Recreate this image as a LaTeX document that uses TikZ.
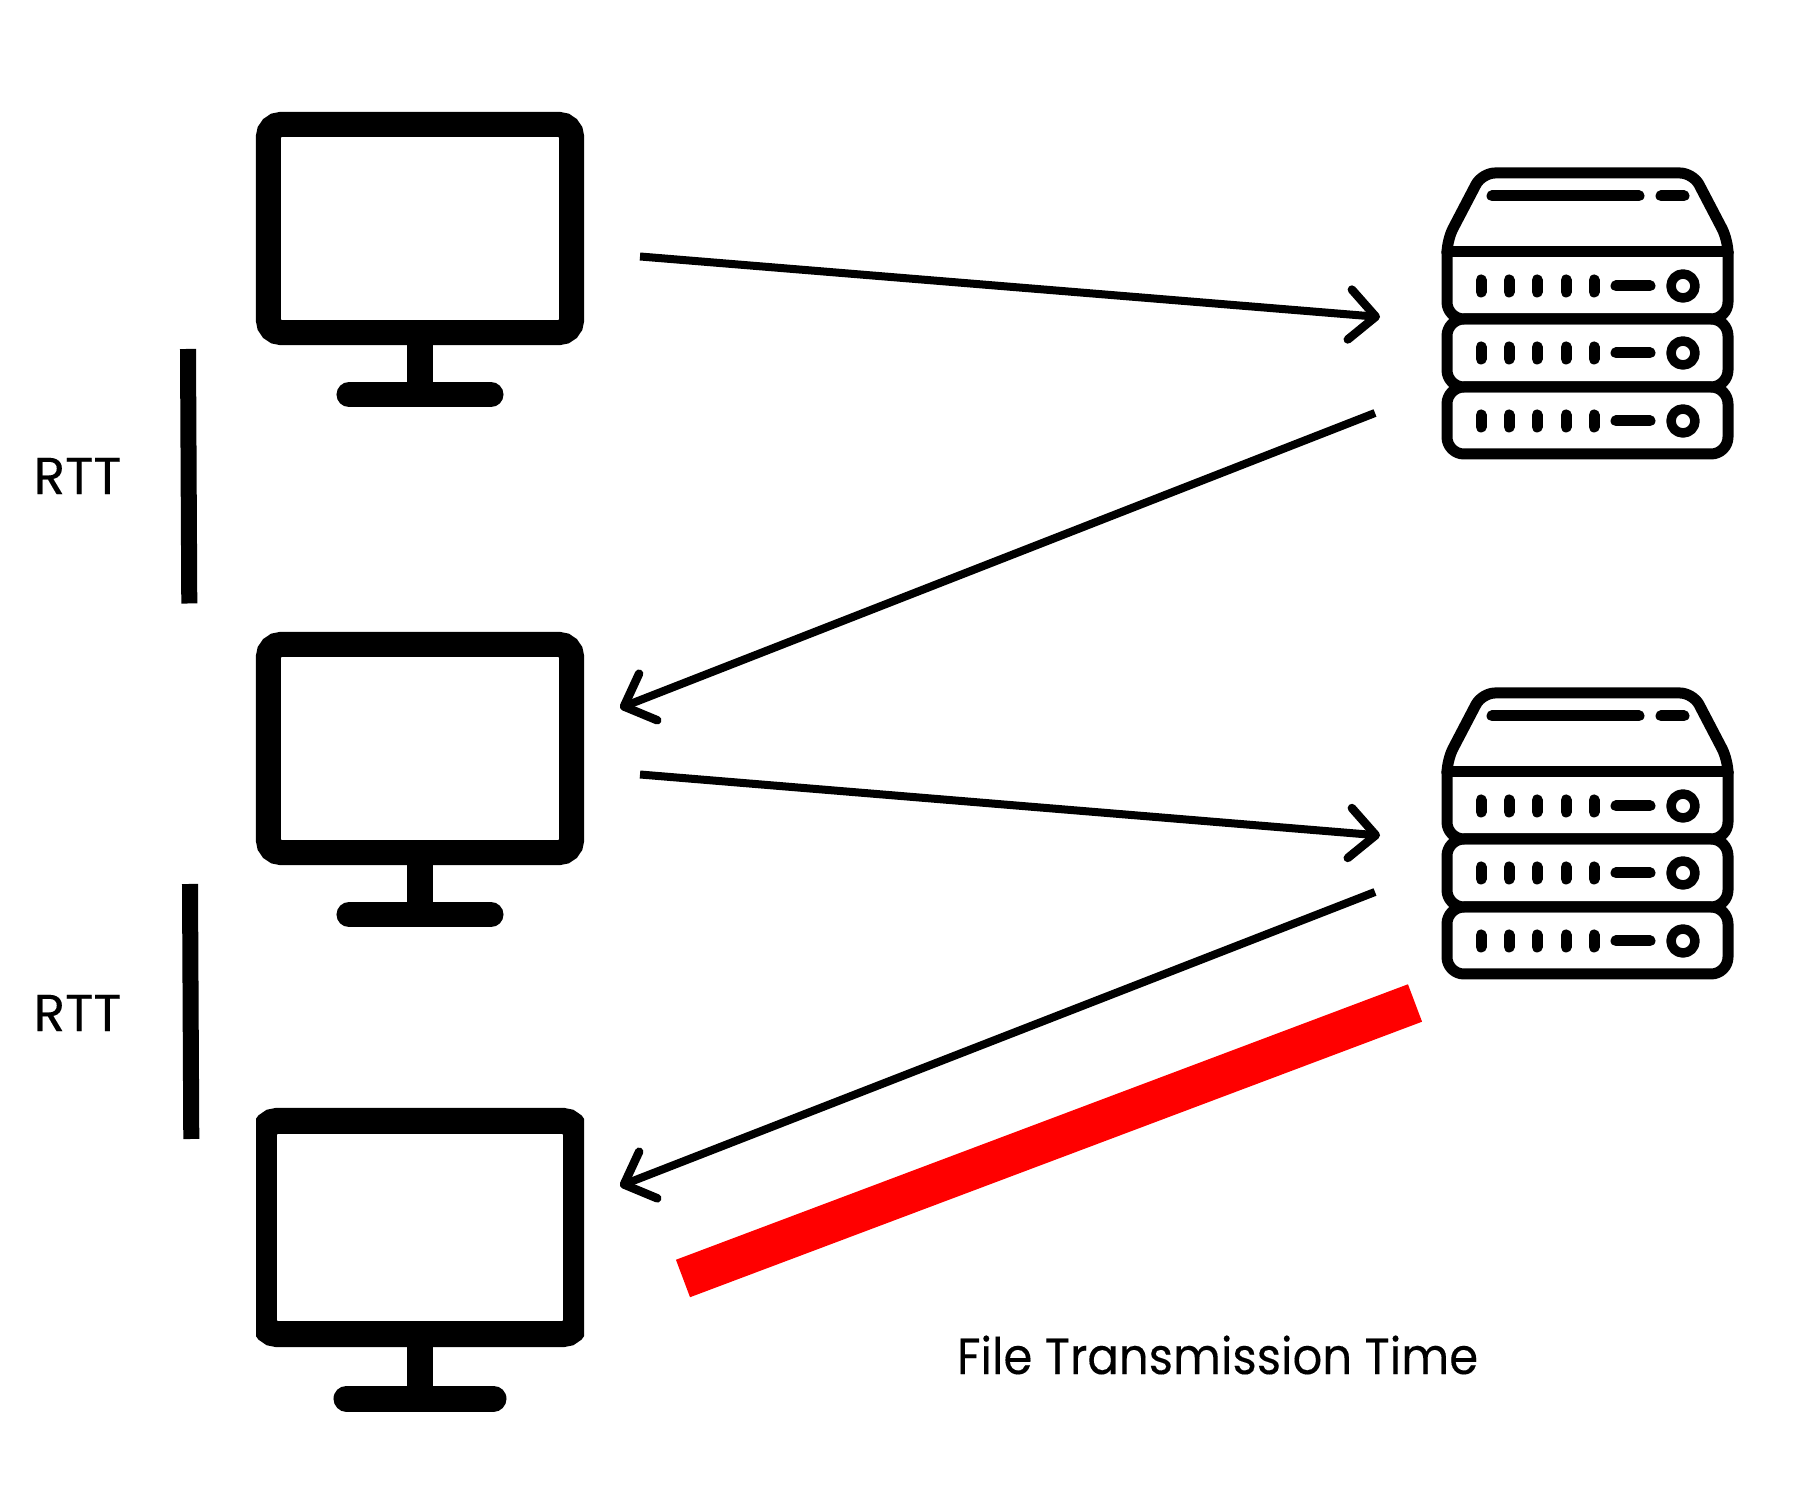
\documentclass[tikz,border=0pt]{standalone}
\usepackage{fontspec}
\setmainfont[FakeBold=0.2]{Poppins}
\newfontfamily\narrowfont[FakeStretch=0.92,FakeBold=0.2]{Poppins}
\usetikzlibrary{arrows.meta,calc}
\definecolor{fileline}{RGB}{255,0,0}

\begin{document}
\begin{tikzpicture}[
  x=0.01cm,y=-0.01cm,
  screen/.style={draw=black,line width=0.25cm,rounded corners=0.125cm,inner sep=0pt},
  stand/.style={line width=0.25cm},
  foot/.style={line width=0.25cm,line cap=round},
  arr/.style={-{Straight Barb[length=0.26cm,width=0.5cm,round,line width=0.085cm]},line width=0.08cm},
  rtt/.style={line width=0.16cm},
  lbl/.style={font=\fontsize{14.8pt}{17pt}\selectfont,inner sep=0pt},
  srv/.style={line width=0.11cm,line cap=round,line join=round},
  serverpic/.pic={
    % case and lid
    \draw[srv,rounded corners=0.13cm] (1447,252) -- (1447,240) -- (1482,173) -- (1693,173) -- (1728,240) -- (1728,252);
    \draw[srv,rounded corners=0.17cm] (1447,252) -- (1447,319) -- (1728,319) -- (1728,252);
    \draw[srv,rounded corners=0.17cm] (1447,319) rectangle (1728,387);
    \draw[srv,rounded corners=0.17cm] (1447,387) rectangle (1728,454);
    \draw[srv] (1447,252) -- (1728,252);
    \draw[srv] (1492,196) -- (1639,196);
    \draw[srv] (1661,196) -- (1684,196);
    % one row of lamps per unit
    \foreach \rowy in {286,353,421}{
      \foreach \lampx in {1481,1509,1537,1566,1594}{
        \draw[srv] (\lampx,\rowy-6) -- (\lampx,\rowy+6);
      }
      \draw[srv] (1616,\rowy) -- (1650,\rowy);
      \draw[srv,line width=0.095cm] (1683,\rowy) circle (0.12cm);
    }
  }
]
\useasboundingbox (0,0) rectangle (1796,1492);

% Monitors
\node[screen,minimum width=3.03cm,minimum height=2.08cm] (pc1) at (420,228.5) {};
\draw[stand] (pc1.south) -- ++(0,49.5) coordinate (pc1foot);
\draw[foot] ($(pc1foot)+(-71,0)$) -- ($(pc1foot)+(71,0)$);

\node[screen,minimum width=3.03cm,minimum height=2.08cm] (pc2) at (420,748.5) {};
\draw[stand] (pc2.south) -- ++(0,49.5) coordinate (pc2foot);
\draw[foot] ($(pc2foot)+(-71,0)$) -- ($(pc2foot)+(71,0)$);

\begin{scope}
  \clip (256,1090) rectangle (584,1430);
  \node[screen,line width=0.26cm,rounded corners=0.13cm,minimum width=3.12cm,minimum height=2.13cm] (pc3) at (420,1227.5) {};
\end{scope}
\draw[stand,line width=0.26cm] (pc3.south) -- ++(0,51.5) coordinate (pc3foot);
\draw[foot,line width=0.26cm] ($(pc3foot)+(-73.5,0)$) -- ($(pc3foot)+(73.5,0)$);

% Servers
\pic (srv1) at (0,0) {serverpic};
\pic (srv2) at (0,520) {serverpic};

% Arrows
\coordinate (pc1out) at (640,256.5);
\coordinate (srv1in) at (1380,317);
\coordinate (srv1out) at (1375,413);
\coordinate (pc2in) at (620,708);
\coordinate (pc2out) at (640,774.5);
\coordinate (srv2in) at (1380,835.5);
\coordinate (srv2out) at (1375,892);
\coordinate (pc3in) at (620,1186);

\draw[arr] (pc1out) -- (srv1in);
\draw[arr] (srv1out) -- (pc2in);
\draw[arr] (pc2out) -- (srv2in);
\draw[arr] (srv2out) -- (pc3in);

% RTT marks
\coordinate (rtt1a) at (188,349);
\coordinate (rtt1b) at (189.3,603.5);
\coordinate (rtt2a) at (190,884);
\coordinate (rtt2b) at (191.3,1139);
\draw[rtt] (rtt1a) -- (rtt1b);
\draw[rtt] (rtt2a) -- (rtt2b);
\node[lbl] (rtt1) at (77.5,476) {RTT};
\node[lbl] (rtt2) at (77.5,1013) {RTT};

% File transmission
\coordinate (filea) at (1415,1003);
\coordinate (fileb) at (683,1278.5);
\draw[fileline,line width=0.40cm] (filea) -- (fileb);
\node[lbl,font=\narrowfont\fontsize{14.4pt}{17pt}\selectfont] (filelbl) at (1217.6,1355) {File Transmission Time};

\end{tikzpicture}
\end{document}
